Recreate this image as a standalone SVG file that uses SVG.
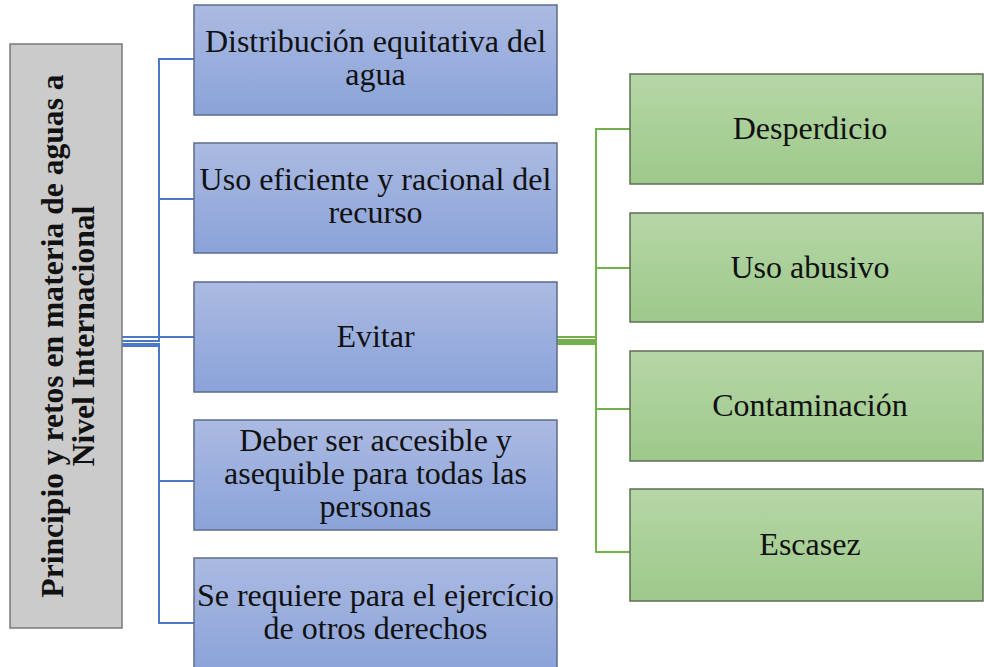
<svg xmlns="http://www.w3.org/2000/svg" width="984" height="667" viewBox="0 0 984 667">
<defs>
<linearGradient id="gBlue" x1="0" y1="0" x2="0" y2="1">
<stop offset="0" stop-color="#abbae2"/>
<stop offset="1" stop-color="#8aa3d9"/>
</linearGradient>
<linearGradient id="gGreen" x1="0" y1="0" x2="0" y2="1">
<stop offset="0" stop-color="#b6d6a7"/>
<stop offset="1" stop-color="#9dc98a"/>
</linearGradient>
</defs>
<style>
.blue{fill:url(#gBlue);stroke:#5d6b8c;stroke-width:1.5}
.green{fill:url(#gGreen);stroke:#5f6d57;stroke-width:1.5}
.gray{fill:#cbcbcb;stroke:#7a7a7a;stroke-width:1.5}
text{font-family:'Liberation Serif','DejaVu Serif',serif;font-size:32px;fill:#111;text-anchor:middle}
.tb{font-weight:bold;font-size:31.6px}
.cb{fill:none;stroke:#4a77c8;stroke-width:2}
.cg{fill:none;stroke:#74b04c;stroke-width:2}
</style>
<rect width="984" height="667" fill="#ffffff"/>
<g id="connectors">
<path class="cb" d="M122,337 H159 V59 H194"/>
<path class="cb" d="M122,341 H159 V199 H194"/>
<path class="cb" d="M122,337 H194"/>
<path class="cb" d="M122,344 H159 V481 H194"/>
<path class="cb" d="M122,346 H159 V623 H194"/>
<path class="cg" d="M557,337 H596 V129 H630"/>
<path class="cg" d="M557,340 H596 V268 H630"/>
<path class="cg" d="M557,342 H596 V409 H630"/>
<path class="cg" d="M557,344 H596 V552 H630"/>
</g>
<g id="root">
<rect class="gray" x="10" y="44" width="112" height="584"/>
<text class="t tb" transform="translate(63,336) rotate(-90)" x="0" y="0">Principio y retos en materia de aguas a</text>
<text class="t tb" transform="translate(94,336) rotate(-90)" x="0" y="0">Nivel Internacional</text>
</g>
<g id="b1">
<rect class="blue" x="194" y="5" width="363" height="110"/>
<text class="t" x="375.5" y="52">Distribución equitativa del</text>
<text class="t" x="375.5" y="85">agua</text>
</g>
<g id="b2">
<rect class="blue" x="194" y="143" width="363" height="110"/>
<text class="t" x="375.5" y="190">Uso eficiente y racional del</text>
<text class="t" x="375.5" y="223">recurso</text>
</g>
<g id="b3">
<rect class="blue" x="194" y="282" width="363" height="110"/>
<text class="t" x="375.5" y="347">Evitar</text>
</g>
<g id="b4">
<rect class="blue" x="194" y="420" width="363" height="110"/>
<text class="t" x="375.5" y="451">Deber ser accesible y</text>
<text class="t" x="375.5" y="484">asequible para todas las</text>
<text class="t" x="375.5" y="517">personas</text>
</g>
<g id="b5">
<rect class="blue" x="194" y="558" width="363" height="112"/>
<text class="t" x="375.5" y="606">Se requiere para el ejercício</text>
<text class="t" x="375.5" y="639">de otros derechos</text>
</g>
<g id="g1">
<rect class="green" x="630" y="74" width="353" height="110"/>
<text class="t" x="810" y="139">Desperdicio</text>
</g>
<g id="g2">
<rect class="green" x="630" y="213" width="353" height="109"/>
<text class="t" x="810" y="278">Uso abusivo</text>
</g>
<g id="g3">
<rect class="green" x="630" y="351" width="353" height="110"/>
<text class="t" x="810" y="416">Contaminación</text>
</g>
<g id="g4">
<rect class="green" x="630" y="489" width="353" height="112"/>
<text class="t" x="810" y="555">Escasez</text>
</g>
</svg>
